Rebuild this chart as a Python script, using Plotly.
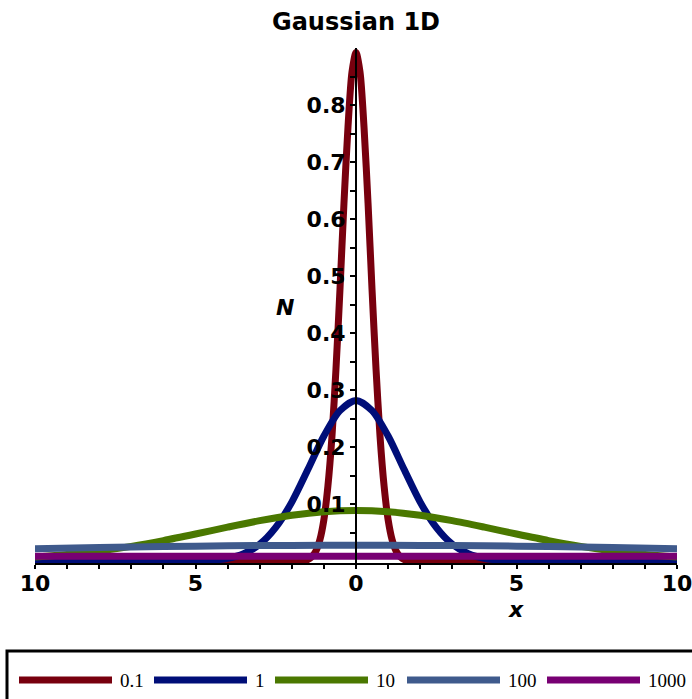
import plotly.graph_objects as go

# Parameter labels (legend)
labels = ["0.1", "1", "10", "100", "1000"]
colors = ["#78000E", "#000E78", "#4A7800", "#3F5A8C", "#780073"]

# Values
x_01 = [-10, -2, -1.75, -1.5, -1.375, -1.25, -1.125, -1, -0.875, -0.75, -0.625, -0.5, -0.375, -0.25, -0.125,
        0, 0.125, 0.25, 0.375, 0.5, 0.625, 0.75, 0.875, 1, 1.125, 1.25, 1.375, 1.5, 1.75, 2, 10]
y_01 = [0, 0.0001, 0.0004, 0.0032, 0.0079, 0.0179, 0.0377, 0.073, 0.132, 0.218, 0.336, 0.476, 0.628, 0.761, 0.858,
        0.892, 0.858, 0.761, 0.628, 0.476, 0.336, 0.218, 0.132, 0.073, 0.0377, 0.0179, 0.0079, 0.0032, 0.0004, 0.0001, 0]

x_1 = [-10, -6, -5, -4.5, -4, -3.5, -3, -2.5, -2, -1.5, -1, -0.5, 0, 0.5, 1, 1.5, 2, 2.5, 3, 3.5, 4, 4.5, 5, 6, 10]
y_1 = [0, 0, 0.0005, 0.0018, 0.0052, 0.0132, 0.0297, 0.0593, 0.1038, 0.1608, 0.2197, 0.2642, 0.2821,
       0.2642, 0.2197, 0.1608, 0.1038, 0.0593, 0.0297, 0.0132, 0.0052, 0.0018, 0.0005, 0, 0]

x_10 = [-10, -9, -8, -7, -6, -5, -4, -3, -2, -1, 0, 1, 2, 3, 4, 5, 6, 7, 8, 9, 10]
y_10 = [0.0073, 0.0118, 0.0180, 0.0262, 0.0363, 0.0478, 0.0598, 0.0712, 0.0807, 0.0870, 0.0892,
        0.0870, 0.0807, 0.0712, 0.0598, 0.0478, 0.0363, 0.0262, 0.0180, 0.0118, 0.0073]

x_100 = [-10, -8, -6, -4, -2, 0, 2, 4, 6, 8, 10]
y_100 = [0.0220, 0.0240, 0.0258, 0.0271, 0.0279, 0.0282, 0.0279, 0.0271, 0.0258, 0.0240, 0.0220]

x_1000 = [-10, -5, 0, 5, 10]
y_1000 = [0.0087, 0.0089, 0.0089, 0.0089, 0.0087]

xs = [x_01, x_1, x_10, x_100, x_1000]
ys = [y_01, y_1, y_10, y_100, y_1000]

x_tickvals = [-10, -5, 0, 5, 10]
x_ticktext = ["10", "5", "0", "5", "10"]
y_tickvals = [0.1, 0.2, 0.3, 0.4, 0.5, 0.6, 0.7, 0.8]
y_ticktext = ["0.1", "0.2", "0.3", "0.4", "0.5", "0.6", "0.7", "0.8"]
y_minorvals = [0.05, 0.15, 0.25, 0.35, 0.45, 0.55, 0.65, 0.75, 0.85]

W, H = 692, 699
ML, MR, MT, MB = 35, 15, 48, 136
PW = W - ML - MR
PH = H - MT - MB


def px_x(px):
    return (px - ML) / PW


def px_y(py):
    return (H - MB - py) / PH


fig = go.Figure()
for xv, yv, lab, col in zip(xs, ys, labels, colors):
    fig.add_trace(go.Scatter(x=xv, y=yv, mode="lines", name=lab, showlegend=False,
                             line=dict(color=col, width=7, shape="spline", smoothing=0.8)))

tick_font = dict(family="DejaVu Sans", size=22, color="black", weight="bold")

annotations = [
    dict(text="<b><i>x</i></b>", x=px_x(516), y=px_y(609), xref="paper", yref="paper",
         xanchor="center", yanchor="middle", showarrow=False,
         font=dict(family="DejaVu Sans", size=22, color="black")),
    dict(text="<b><i>N</i></b>", x=px_x(285), y=px_y(307), xref="paper", yref="paper",
         xanchor="center", yanchor="middle", showarrow=False,
         font=dict(family="DejaVu Sans", size=22, color="black")),
]
shapes = [
    dict(type="rect", xref="paper", yref="paper",
         x0=px_x(7), x1=px_x(705), y0=px_y(651), y1=px_y(710),
         line=dict(color="black", width=3), fillcolor="rgba(0,0,0,0)", layer="above"),
]

# manual legend layout (pixel positions)
leg_line_x0 = [19, 154, 275, 407, 547]
leg_line_len = 93
leg_y = 680
for lab, col, lx in zip(labels, colors, leg_line_x0):
    shapes.append(dict(type="line", xref="paper", yref="paper",
                       x0=px_x(lx), x1=px_x(lx + leg_line_len), y0=px_y(leg_y), y1=px_y(leg_y),
                       line=dict(color=col, width=7)))
    annotations.append(dict(text=lab, x=px_x(lx + leg_line_len + 6), y=px_y(leg_y),
                            xref="paper", yref="paper", xanchor="left", yanchor="middle",
                            showarrow=False,
                            font=dict(family="Liberation Serif", size=19, color="black")))

fig.update_layout(
    width=W, height=H,
    margin=dict(l=ML, r=MR, t=MT, b=MB),
    paper_bgcolor="white", plot_bgcolor="white",
    title=dict(text="Gaussian 1D", x=0.5, xanchor="center", y=(H - 22) / H, yanchor="middle",
               xref="paper",
               font=dict(family="DejaVu Sans", size=24, color="black", weight="bold")),
    xaxis=dict(range=[-10, 10], showgrid=False, zeroline=False, automargin=False,
               showline=True, linecolor="black", linewidth=2,
               tickvals=x_tickvals, ticktext=x_ticktext,
               ticks="outside", ticklen=4, tickwidth=2, tickcolor="black",
               ticklabeloverflow="allow", ticklabelstandoff=-4,
               minor=dict(dtick=1, tick0=0, ticks="outside", ticklen=4, tickwidth=2, tickcolor="black"),
               tickfont=tick_font),
    yaxis=dict(range=[-0.003, 0.9], showgrid=False, zeroline=False, automargin=False,
               anchor="free", position=0.5,
               showline=True, linecolor="black", linewidth=2,
               tickvals=y_tickvals, ticktext=y_ticktext,
               ticks="outside", ticklen=5, tickwidth=2, tickcolor="black",
               minor=dict(tickvals=y_minorvals, ticks="outside", ticklen=5, tickwidth=2, tickcolor="black"),
               tickfont=tick_font),
    showlegend=False,
    annotations=annotations,
    shapes=shapes,
)

fig.write_html("out.html")
